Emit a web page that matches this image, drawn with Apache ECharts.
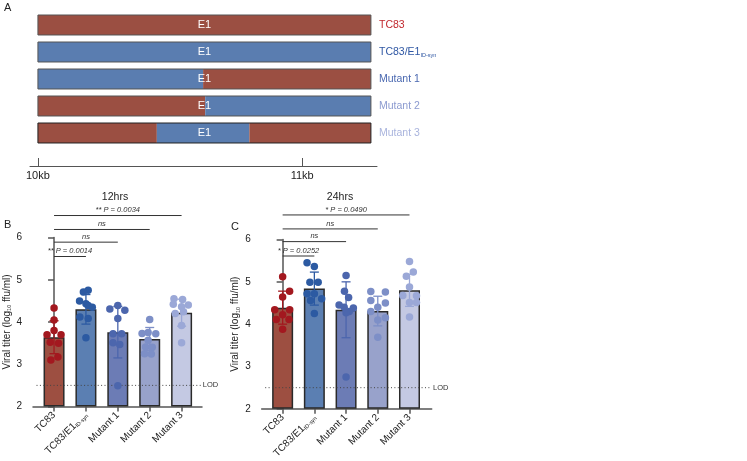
<!DOCTYPE html>
<html><head><meta charset="utf-8">
<script src="https://cdn.jsdelivr.net/npm/echarts@6/dist/echarts.min.js"></script>
<style>html,body{margin:0;padding:0;background:#fff}#c{width:747px;height:461px}</style>
</head><body><div id="c"></div>
<script>
// ---------- Panel A data ----------
const constructs = ['TC83', 'TC83/E1 ID-syn', 'Mutant 1', 'Mutant 2', 'Mutant 3'];
const geneStartKb = 10.0;
const geneEndKb = 11.26;
// [row, startKb, endKb, origin]  origin 0 = TC83, 1 = ID-syn
const segments = [
  [0, 10.0, 11.26, 0],
  [1, 10.0, 11.26, 1],
  [2, 10.0, 10.625, 1], [2, 10.625, 11.26, 0],
  [3, 10.0, 10.633, 0], [3, 10.633, 11.26, 1],
  [4, 10.0, 10.45, 0], [4, 10.45, 10.80, 1], [4, 10.80, 11.26, 0]
];
const kbTicks = [10, 11];

// ---------- Panels B / C data ----------
const groups = ['TC83', 'TC83/E1', 'Mutant 1', 'Mutant 2', 'Mutant 3'];
const LOD = 2.5;

const mean12 = [3.64, 4.30, 3.76, 3.60, 4.22];
const sd12   = [0.39, 0.35, 0.61, 0.27, 0.32];
const pts12 = [
  [4.33, 4.05, 3.80, 3.70, 3.70, 3.52, 3.50, 3.17, 3.10],
  [4.75, 4.71, 4.50, 4.43, 4.39, 4.35, 4.12, 4.08, 3.63],
  [4.39, 4.31, 4.28, 4.08, 3.72, 3.72, 3.51, 3.47, 2.49],
  [4.06, 3.75, 3.73, 3.72, 3.57, 3.41, 3.40, 3.25, 3.24],
  [4.55, 4.53, 4.42, 4.40, 4.36, 4.24, 4.20, 3.92, 3.51]
];
const jit12 = [
  [0, 0, 0, -0.22, 0.22, -0.12, 0.14, 0.12, -0.1],
  [0.07, -0.08, -0.2, 0, 0.07, 0.2, -0.19, 0.07, 0],
  [0, -0.25, 0.22, 0, -0.15, 0.12, -0.15, 0.06, 0],
  [0, -0.05, -0.24, 0.19, -0.05, -0.13, 0.08, -0.16, 0.05],
  [-0.24, 0.03, -0.26, 0.21, 0, 0.06, -0.2, 0, 0]
];
const sig12 = [[0, 1, '** P = 0.0014'], [0, 2, 'ns'], [0, 3, 'ns'], [0, 4, '** P = 0.0034']];

const mean24 = [4.39, 4.84, 4.34, 4.31, 4.80];
const sd24   = [0.39, 0.39, 0.66, 0.35, 0.38];
const pts24 = [
  [5.12, 4.78, 4.64, 4.34, 4.34, 4.22, 4.11, 4.11, 3.88],
  [5.45, 5.36, 4.99, 4.99, 4.72, 4.72, 4.60, 4.56, 4.25],
  [5.15, 4.78, 4.63, 4.45, 4.40, 4.38, 4.30, 4.27, 2.75],
  [4.77, 4.76, 4.56, 4.50, 4.40, 4.30, 4.15, 4.10, 3.69],
  [5.48, 5.23, 5.13, 4.88, 4.68, 4.67, 4.51, 4.51, 4.17]
];
const jit24 = [
  [0, 0.22, 0, -0.25, 0.22, 0, -0.2, 0.2, 0],
  [-0.23, 0, -0.14, 0.12, -0.23, 0, 0.23, -0.12, 0],
  [0, -0.05, 0.08, -0.22, -0.06, 0.23, 0.1, 0, 0],
  [-0.22, 0.24, -0.22, 0.24, 0, -0.22, 0.24, 0, 0],
  [0, 0.12, -0.1, 0, -0.21, 0.22, 0, 0.22, 0]
];
const sig24 = [[0, 1, '* P = 0.0252'], [0, 2, 'ns'], [0, 3, 'ns'], [0, 4, '* P = 0.0490']];

// ---------- styles ----------
const FONT = '"Liberation Sans", Arial, Helvetica, sans-serif';
const RED = '#9b4f42', BLUE = '#5a7db0';
const labelColA = ['#c1272d', '#2f57a3', '#4a68b0', '#8c9bd0', '#a9b4dd'];
const barCol = ['#9d4f41', '#5b7fb2', '#6c7cb5', '#98a2cb', '#c4c9e3'];
const ptCol  = ['#a3181f', '#2c5aa2', '#4c66ad', '#7d8fc7', '#9ba8d7'];
const AX = '#555';

const chart = echarts.init(document.getElementById('c'), null, {renderer: 'canvas'});

function xAxisBC(gi) {
  return {
    type: 'value', gridIndex: gi, min: -0.66, max: gi === 1 ? 4.64 : 4.7,
    splitLine: {show: false},
    axisLine: {show: true, onZero: false, lineStyle: {color: AX, width: 1.5}},
    axisTick: {show: true, customValues: [0, 1, 2, 3, 4], length: 5, lineStyle: {color: AX, width: 1.5}},
    axisLabel: {
      customValues: [0, 1, 2, 3, 4], rotate: 45, margin: 7, fontSize: 10, color: '#222', fontFamily: FONT,
      formatter: v => v === 1 ? '{m|TC83/E1}{s|ID-syn}' : '{m|' + groups[v] + '}',
      rich: {m: {fontSize: 10, color: '#222', fontFamily: FONT},
             s: {fontSize: 5.5, color: '#222', fontFamily: FONT, padding: [5, 0, 0, 0]}}
    }
  };
}
function yAxisBC(gi) {
  return {
    type: 'value', gridIndex: gi, min: 2, max: 6, interval: 1, startValue: 2,
    splitLine: {show: false},
    axisLine: {show: true, lineStyle: {color: AX, width: 1.5}},
    axisTick: {show: true, length: 6, lineStyle: {color: AX, width: 1.5}},
    axisLabel: {fontSize: 10, color: '#222', margin: 11, fontFamily: FONT},
    name: 'Viral titer (log{sub|10} ffu/ml)', nameLocation: 'middle', nameGap: 19.5,
    nameTextStyle: {fontSize: 10, color: '#222', fontFamily: FONT,
      rich: {sub: {fontSize: 5.5, color: '#222', fontFamily: FONT, padding: [5, 0, 0, 0]}}}
  };
}

function panelSeries(gi, means, sds, pts, jit, sig, levels) {
  const s = [];
  s.push({
    type: 'bar', xAxisIndex: gi, yAxisIndex: gi, barWidth: 21, z: 2,
    data: means.map((m, i) => ({value: [i, m], itemStyle: {color: barCol[i]}})),
    itemStyle: {borderColor: '#2a2a2a', borderWidth: 1.5}
  });
  // LOD dotted line
  s.push({
    type: 'custom', xAxisIndex: gi, yAxisIndex: gi, z: 3, clip: false,
    data: [[LOD]],
    renderItem: (p, api) => {
      const a = api.coord([-0.55, api.value(0)]);
      const b = api.coord([gi === 1 ? 4.6 : 4.68, api.value(0)]);
      return {type: 'group', children: [
        {type: 'line', shape: {x1: a[0], y1: a[1], x2: b[0], y2: b[1]},
         style: {stroke: '#444', lineWidth: 1, lineDash: [1, 2.4]}},
        {type: 'text', x: b[0] + 2, y: b[1], style: {text: 'LOD', fontSize: 7.5, fill: '#333',
          fontFamily: FONT, verticalAlign: 'middle', align: 'left'}}
      ]};
    }
  });
  // error bars
  s.push({
    type: 'custom', xAxisIndex: gi, yAxisIndex: gi, z: 4, clip: false,
    data: means.map((m, i) => [i, m, sds[i]]),
    renderItem: (p, api) => {
      const i = api.value(0), m = api.value(1), sd = api.value(2);
      const t = api.coord([i, m + sd]), b = api.coord([i, m - sd]);
      const st = {stroke: ptCol[i], lineWidth: 1.3};
      return {type: 'group', children: [
        {type: 'line', shape: {x1: t[0], y1: t[1], x2: b[0], y2: b[1]}, style: st},
        {type: 'line', shape: {x1: t[0] - 4.5, y1: t[1], x2: t[0] + 4.5, y2: t[1]}, style: st},
        {type: 'line', shape: {x1: b[0] - 4.5, y1: b[1], x2: b[0] + 4.5, y2: b[1]}, style: st}
      ]};
    }
  });
  // points
  pts.forEach((arr, i) => {
    s.push({
      type: 'scatter', xAxisIndex: gi, yAxisIndex: gi, z: 5, symbolSize: 7.5,
      itemStyle: {color: ptCol[i], opacity: 1},
      data: arr.map((v, k) => [i + jit[i][k], v])
    });
  });
  // significance brackets
  s.push({
    type: 'custom', xAxisIndex: gi, yAxisIndex: gi, z: 6, clip: false,
    data: sig.map((d, k) => [d[0], d[1], levels[k]]),
    renderItem: (p, api) => {
      const a = api.coord([api.value(0), api.value(2)]);
      const b = api.coord([api.value(1), api.value(2)]);
      return {type: 'group', children: [
        {type: 'line', shape: {x1: a[0], y1: a[1], x2: b[0], y2: b[1]}, style: {stroke: '#333', lineWidth: 1}},
        {type: 'text', x: (a[0] + b[0]) / 2, y: a[1] - 1.5,
         style: {text: sig[p.dataIndex][2], fontSize: 7.5, fontStyle: 'italic', fill: '#333',
                 fontFamily: FONT, align: 'center', verticalAlign: 'bottom'}}
      ]};
    }
  });
  return s;
}

const option = {
  animation: false,
  backgroundColor: '#fff',
  textStyle: {fontFamily: FONT},
  grid: [
    {left: 30, top: 11.5, width: 347, height: 135},
    {left: 33, top: 237.5, width: 169, height: 169},
    {left: 261.7, top: 239.5, width: 170, height: 169.5}
  ],
  xAxis: [
    {
      type: 'value', gridIndex: 0, min: 9.97, max: 11.283, offset: 19.5,
      splitLine: {show: false},
      axisLine: {show: true, onZero: false, lineStyle: {color: AX, width: 1}},
      axisTick: {show: true, inside: true, length: 8, customValues: kbTicks, lineStyle: {color: AX, width: 1}},
      axisLabel: {customValues: kbTicks, formatter: v => v + 'kb', margin: 4, fontSize: 11, color: '#222', fontFamily: FONT}
    },
    xAxisBC(1), xAxisBC(2)
  ],
  yAxis: [
    {
      type: 'category', gridIndex: 0, data: constructs, inverse: true, position: 'right',
      axisLine: {show: false}, axisTick: {show: false}, splitLine: {show: false},
      axisLabel: {
        margin: 2, fontSize: 10.5, fontFamily: FONT,
        formatter: (v, i) => i === 1 ? '{c1|TC83/E1}{s|ID-syn}' : '{c' + i + '|' + v + '}',
        rich: {
          c0: {color: labelColA[0], fontSize: 10.5, fontFamily: FONT},
          c1: {color: labelColA[1], fontSize: 10.5, fontFamily: FONT},
          c2: {color: labelColA[2], fontSize: 10.5, fontFamily: FONT},
          c3: {color: labelColA[3], fontSize: 10.5, fontFamily: FONT},
          c4: {color: labelColA[4], fontSize: 10.5, fontFamily: FONT},
          s: {color: labelColA[1], fontSize: 5.5, fontFamily: FONT, padding: [6, 0, 0, 0]}
        }
      }
    },
    yAxisBC(1),
    Object.assign(yAxisBC(2), {nameGap: 20})
  ],
  graphic: [
    {type: 'text', left: 4, top: 2, style: {text: 'A', fontSize: 11, fill: '#222', fontFamily: FONT}},
    {type: 'text', left: 4, top: 219, style: {text: 'B', fontSize: 11, fill: '#222', fontFamily: FONT}},
    {type: 'text', left: 231, top: 221, style: {text: 'C', fontSize: 11, fill: '#222', fontFamily: FONT}},
    {type: 'text', x: 115, y: 197, style: {text: '12hrs', fontSize: 10.5, fill: '#222', fontFamily: FONT, align: 'center', verticalAlign: 'middle'}},
    {type: 'text', x: 340, y: 197, style: {text: '24hrs', fontSize: 10.5, fill: '#222', fontFamily: FONT, align: 'center', verticalAlign: 'middle'}}
  ],
  series: [
    {
      type: 'custom', xAxisIndex: 0, yAxisIndex: 0, z: 2,
      data: segments,
      encode: {x: [1, 2], y: 0},
      renderItem: (p, api) => {
        const row = api.value(0);
        const a = api.coord([api.value(1), row]), b = api.coord([api.value(2), row]);
        const h = api.size([0, 1])[1] * 0.74;
        return {type: 'rect', shape: {x: a[0], y: a[1] - h / 2, width: b[0] - a[0], height: h},
                style: {fill: api.value(3) ? BLUE : RED}};
      }
    },
    {
      type: 'custom', xAxisIndex: 0, yAxisIndex: 0, z: 3,
      data: constructs.map((c, i) => [i, geneStartKb, geneEndKb]),
      encode: {x: [1, 2], y: 0},
      renderItem: (p, api) => {
        const row = api.value(0);
        const a = api.coord([api.value(1), row]), b = api.coord([api.value(2), row]);
        const h = api.size([0, 1])[1] * 0.74;
        return {type: 'group', children: [
          {type: 'rect', shape: {x: a[0], y: a[1] - h / 2, width: b[0] - a[0], height: h},
           style: {fill: 'none', stroke: row === 4 ? '#222' : '#555', lineWidth: 1}},
          {type: 'text', x: (a[0] + b[0]) / 2, y: a[1],
           style: {text: 'E1', fill: '#fff', fontSize: 11, fontFamily: FONT, align: 'center', verticalAlign: 'middle'}}
        ]};
      }
    }
  ].concat(
    panelSeries(1, mean12, sd12, pts12, jit12, sig12, [5.55, 5.89, 6.19, 6.52]),
    panelSeries(2, mean24, sd24, pts24, jit24, sig24, [5.61, 5.95, 6.25, 6.58])
  )
};
chart.setOption(option);
</script>
</body></html>
